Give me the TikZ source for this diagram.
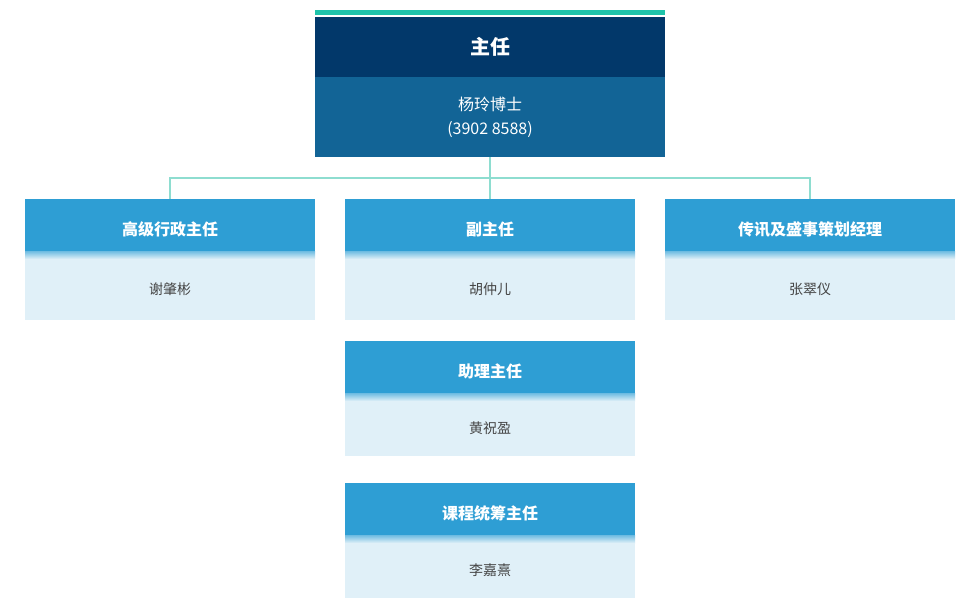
\documentclass[tikz,border=0pt]{standalone}
\usepackage{fontspec}
\setmainfont{Noto Sans CJK SC}
\newfontfamily\cjkbold[BoldFont=Noto Sans CJK SC Bold]{Noto Sans CJK SC}
\begin{document}
\begin{tikzpicture}[x=1pt,y=-1pt,
  box/.style={anchor=north west,inner sep=0pt,outer sep=0pt,minimum width=290pt,align=center},
  hdr/.style={box,fill=hdrc,minimum height=60pt,text=white,font=\fontsize{16}{18}\selectfont\bfseries},
  bdy/.style={box,fill=bdyc,text=txtc,font=\fontsize{14}{16}\selectfont},
  conn/.style={draw=connc,line width=2pt}]
\definecolor{darkc}{HTML}{02386A}
\definecolor{midc}{HTML}{126496}
\definecolor{hdrc}{HTML}{2E9ED4}
\definecolor{bdyc}{HTML}{E0F0F8}
\definecolor{tealc}{HTML}{1EC3AA}
\definecolor{connc}{HTML}{8EDDD0}
\definecolor{txtc}{HTML}{444444}
\useasboundingbox (0,0) rectangle (980,600);
\fill[white] (0,0) rectangle (980,600);
\fill[tealc] (315,10) rectangle (665,15);
\node[box,minimum width=350pt,minimum height=60pt,fill=darkc,text=white,font=\fontsize{20}{24}\selectfont\bfseries] (dir) at (315,17) {主任};
\node[box,minimum width=350pt,minimum height=80pt,fill=midc,text=white,font=\fontsize{16}{24}\selectfont] (dirn) at (315,77) {杨玲博士\\(3902 8588)};
\node[hdr] (h1) at (25,199) {高级行政主任};
\node[bdy,minimum height=61pt] (b1) at (25,259) {谢肇彬};
\node[hdr] (h2) at (345,199) {副主任};
\node[bdy,minimum height=61pt] (b2) at (345,259) {胡仲儿};
\node[hdr] (h3) at (665,199) {传讯及盛事策划经理};
\node[bdy,minimum height=61pt] (b3) at (665,259) {张翠仪};
\node[hdr] (h4) at (345,341) {助理主任};
\node[bdy,minimum height=55pt] (b4) at (345,401) {黄祝盈};
\node[hdr] (h5) at (345,483) {课程统筹主任};
\node[bdy,minimum height=55pt] (b5) at (345,543) {李嘉熹};
\foreach \b in {b1,b2,b3,b4,b5}{
  \shade[top color=hdrc!70,bottom color=bdyc] (\b.north west) rectangle ([yshift=8pt]\b.north east);}
\coordinate (bus) at (490,178);
\draw[conn] (dirn.south) -- (bus);
\draw[conn] (bus) -| (h1.north);
\draw[conn] (bus) -| (h3.north);
\draw[conn] (bus) -- (h2.north);
\end{tikzpicture}
\end{document}
